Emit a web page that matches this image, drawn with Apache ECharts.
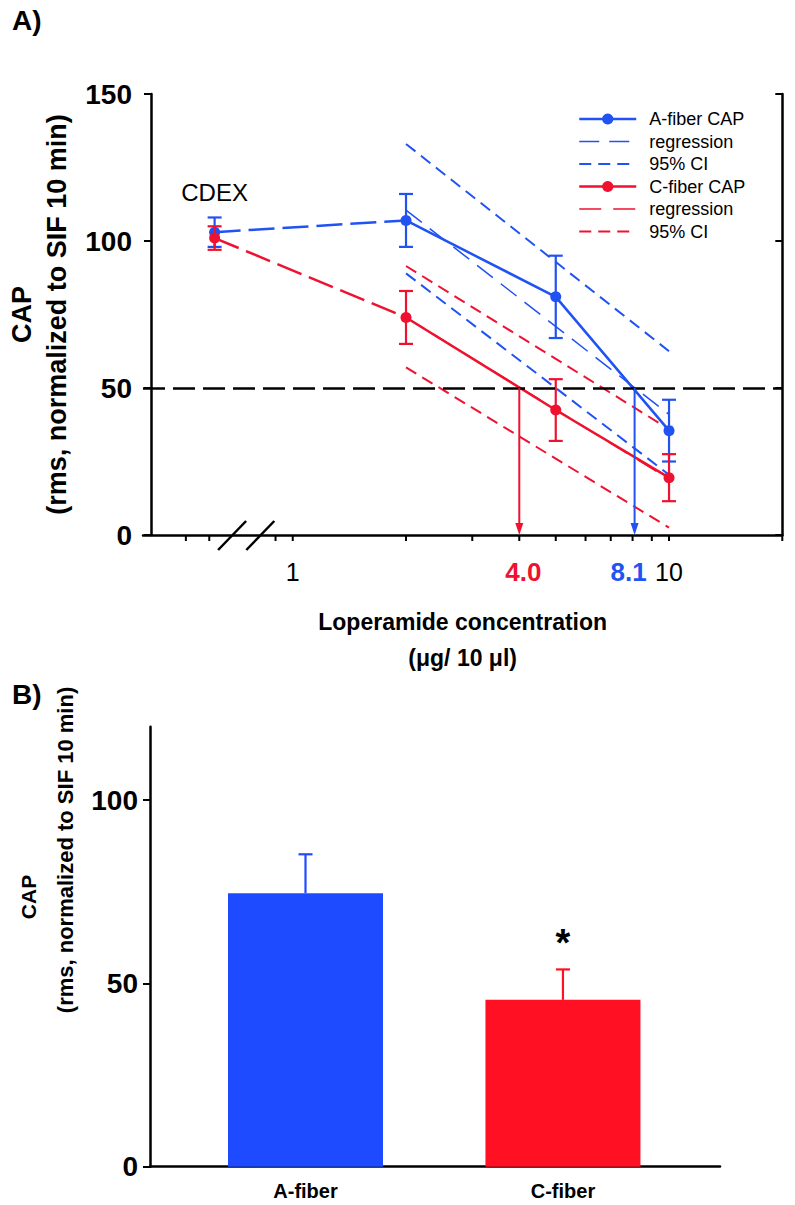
<!DOCTYPE html>
<html>
<head>
<meta charset="utf-8">
<script src="https://cdn.jsdelivr.net/npm/echarts@6.0.0/dist/echarts.min.js"></script>
<style>
html,body{margin:0;padding:0;background:#ffffff;}
#chart{width:795px;height:1205px;}
</style>
</head>
<body>
<div id="chart"></div>
<script>
// ---------- panel A data ----------
const cdexPosition = 0.62;            // x at which the CDEX control sits (left of the axis break)
const concentrations = [2, 5, 10];    // loperamide, µg / 10 µl
const aFiberCdex = [103, 5];          // mean, error
const cFiberCdex = [101, 4];
const aFiberMean = [107, 81, 35.5];
const aFiberErr  = [9, 14, 10.5];
const cFiberMean = [74, 42.5, 19.5];
const cFiberErr  = [9, 10.5, 8];
const regressionX = [2, 10];
const aRegression = [110.5, 41];
const aCiUpper    = [133, 62.5];
const aCiLower    = [89, 20.5];
const cRegression = [74, 19];
const cCiUpper    = [91.5, 36];
const cCiLower    = [57, 2.5];
const halfMaximal = 50;
const ic50Values  = [4.0, 8.1];
const ic50Labels  = ['4.0', '8.1'];
const xTickValues = [0.52, 0.6, 0.9, 1, 2, 3, 4, 5, 6, 7, 8, 9, 10, 20];
const xLabelValues = [1, 10];
const axisBreakAt = [0.69, 0.82];

// ---------- panel B data ----------
const fiberTypes = ['A-fiber', 'C-fiber'];
const capMean = [74.6, 45.5];
const capSem  = [10.6, 8.3];
const significance = ['', '*'];

// ---------- styling ----------
const FONT = '"Liberation Sans", Arial, Helvetica, sans-serif';
const BLUE = '#2152F2';
const RED = '#EE1230';
const BAR_BLUE = '#1E4BFF';
const BAR_RED = '#FF1022';
const SOLID_W = 2.5, CONNECT_DASH = [26, 8];
const REG_A = { width: 1.5, type: [20, 10] };
const REG_C = { width: 1.5, type: [22, 12] };
const CI = { width: 2, type: [12, 7] };

const zip = (xs, ys) => xs.map((x, i) => [x, ys[i]]);

function errorBarRenderer(color, upOnly) {
  return function (params, api) {
    const x = api.value(0), m = api.value(1), e = api.value(2);
    const top = api.coord([x, m + e]);
    const bot = upOnly ? api.coord([x, m]) : api.coord([x, m - e]);
    const hw = 7;
    const st = { stroke: color, lineWidth: 2.2 };
    const children = [
      { type: 'line', shape: { x1: top[0], y1: top[1], x2: bot[0], y2: bot[1] }, style: st },
      { type: 'line', shape: { x1: top[0] - hw, y1: top[1], x2: top[0] + hw, y2: top[1] }, style: st }
    ];
    if (!upOnly) {
      children.push({ type: 'line', shape: { x1: bot[0] - hw, y1: bot[1], x2: bot[0] + hw, y2: bot[1] }, style: st });
    }
    return { type: 'group', children: children };
  };
}

const chart = echarts.init(document.getElementById('chart'), null, { renderer: 'svg', width: 795, height: 1205 });

const legendItem = (name, color, line, hideSymbol) => ({
  name: name,
  itemStyle: hideSymbol ? { color: color, opacity: 0 } : { color: color },
  lineStyle: { color: color, width: line.width, type: line.type, opacity: 1 }
});

const option = {
  animation: false,
  backgroundColor: '#ffffff',
  textStyle: { fontFamily: FONT },
  graphic: [
    { type: 'text', left: 12, top: 6, style: { text: 'A)', font: 'bold 28px ' + FONT, fill: '#000' } },
    { type: 'text', left: 12, top: 680, style: { text: 'B)', font: 'bold 28px ' + FONT, fill: '#000' } },
    { type: 'text', x: 28, y: 897, rotation: Math.PI / 2, style: { text: 'CAP', font: 'bold 21px ' + FONT, fill: '#000', align: 'center', verticalAlign: 'middle' } },
    { type: 'text', x: 65, y: 850, rotation: Math.PI / 2, style: { text: '(rms, normalized to SIF 10 min)', font: 'bold 22px ' + FONT, fill: '#000', align: 'center', verticalAlign: 'middle' } }
  ],
  legend: {
    orient: 'vertical',
    left: 578,
    top: 110,
    padding: 0,
    itemWidth: 57,
    itemHeight: 14,
    itemGap: 4.5,
    selectedMode: false,
    data: [
      legendItem('A-fiber CAP', BLUE, { width: SOLID_W, type: 'solid' }, false),
      legendItem('regression', BLUE, REG_A, true),
      legendItem('95% CI', BLUE, CI, true),
      legendItem('C-fiber CAP', RED, { width: SOLID_W, type: 'solid' }, false),
      legendItem('regression ', RED, REG_C, true),
      legendItem('95% CI ', RED, CI, true)
    ],
    textStyle: { fontSize: 18, lineHeight: 18, color: '#000', fontFamily: FONT, padding: [0, 0, 0, 8] }
  },
  grid: [
    { left: 143, top: 94, width: 639.3, height: 441, outerBoundsMode: 'none', containLabel: false },
    { left: 150, top: 726.7, width: 570, height: 440, outerBoundsMode: 'none', containLabel: false }
  ],
  xAxis: [
    {
      gridIndex: 0, type: 'log', logBase: 10, min: 0.4, max: 20,
      axisLine: { lineStyle: { color: '#000', width: 2.5 } },
      axisTick: { show: false }, axisLabel: { show: false },
      splitLine: { show: false }, minorTick: { show: false },
      name: 'Loperamide concentration\n(μg/ 10 μl)',
      nameLocation: 'middle', nameGap: 69,
      nameTextStyle: { fontSize: 23, fontWeight: 'bold', color: '#000', lineHeight: 36, fontFamily: FONT }
    },
    {
      gridIndex: 1, type: 'value', min: -0.604, max: 1.61,
      axisLine: { onZero: false, lineStyle: { color: '#000', width: 2.5 } },
      axisTick: { show: false },
      splitLine: { show: false },
      axisLabel: {
        customValues: [0, 1],
        formatter: (v) => fiberTypes[Math.round(v)],
        fontSize: 20, fontWeight: 'bold', color: '#000', margin: 14, fontFamily: FONT
      }
    }
  ],
  yAxis: [
    {
      gridIndex: 0, type: 'value', min: 0, max: 150, interval: 50, offset: -8,
      axisLine: { show: true, lineStyle: { color: '#000', width: 2.5 } },
      axisTick: { show: true, length: 7, lineStyle: { width: 2 } },
      axisLabel: { fontSize: 28, fontWeight: 'bold', color: '#000', margin: 19, fontFamily: FONT },
      splitLine: { show: false },
      name: 'CAP\n(rms, normalized to SIF 10 min)',
      nameLocation: 'middle', nameRotate: 90, nameGap: 70,
      nameTextStyle: { fontSize: 27, fontWeight: 'bold', color: '#000', lineHeight: 35, fontFamily: FONT }
    },
    {
      gridIndex: 0, type: 'value', position: 'right', min: 0, max: 150, interval: 50,
      axisLine: { show: true, lineStyle: { color: '#000', width: 2.5 } },
      axisTick: { show: true, inside: true, length: 7, lineStyle: { width: 2 } },
      axisLabel: { show: false }, splitLine: { show: false }
    },
    {
      gridIndex: 1, type: 'value', min: 0, max: 120, interval: 50,
      axisLine: { show: true, onZero: false, lineStyle: { color: '#000', width: 2.5 } },
      axisTick: { show: true, length: 7, lineStyle: { width: 2 }, customValues: [0, 50, 100] },
      axisLabel: { fontSize: 28, fontWeight: 'bold', color: '#000', margin: 12, fontFamily: FONT, customValues: [0, 50, 100] },
      splitLine: { show: false }
    }
  ],
  series: [
    // ---- A-fiber ----
    {
      name: 'A-fiber CAP', type: 'line', xAxisIndex: 0, yAxisIndex: 0, z: 3,
      data: zip(concentrations, aFiberMean),
      symbol: 'circle', symbolSize: 11, showSymbol: true,
      lineStyle: { color: BLUE, width: SOLID_W }, itemStyle: { color: BLUE },
      markLine: {
        silent: true, symbol: 'none', label: { show: false },
        lineStyle: { color: '#000', width: 2.5, type: [22, 8] },
        data: [{ yAxis: halfMaximal }]
      }
    },
    {
      name: 'A-fiber CAP', type: 'line', xAxisIndex: 0, yAxisIndex: 0, z: 3,
      data: [
        { value: [cdexPosition, aFiberCdex[0]], label: { show: true, formatter: 'CDEX', position: 'top', distance: 22, fontSize: 24, color: '#000', fontFamily: FONT } },
        { value: [concentrations[0], aFiberMean[0]], symbol: 'none' }
      ],
      symbol: 'circle', symbolSize: 11,
      lineStyle: { color: BLUE, width: SOLID_W, type: CONNECT_DASH }, itemStyle: { color: BLUE }
    },
    {
      name: 'regression', type: 'line', xAxisIndex: 0, yAxisIndex: 0, z: 2,
      data: zip(regressionX, aRegression), symbol: 'none',
      lineStyle: { color: BLUE, width: REG_A.width, type: REG_A.type }, itemStyle: { color: BLUE }
    },
    {
      name: '95% CI', type: 'line', xAxisIndex: 0, yAxisIndex: 0, z: 2,
      data: zip(regressionX, aCiUpper), symbol: 'none',
      lineStyle: { color: BLUE, width: CI.width, type: CI.type }, itemStyle: { color: BLUE }
    },
    {
      name: '95% CI', type: 'line', xAxisIndex: 0, yAxisIndex: 0, z: 2,
      data: zip(regressionX, aCiLower), symbol: 'none',
      lineStyle: { color: BLUE, width: CI.width, type: CI.type }, itemStyle: { color: BLUE }
    },
    {
      name: 'aErr', type: 'custom', xAxisIndex: 0, yAxisIndex: 0, z: 3,
      renderItem: errorBarRenderer(BLUE, false),
      data: [[cdexPosition, aFiberCdex[0], aFiberCdex[1]]].concat(concentrations.map((c, i) => [c, aFiberMean[i], aFiberErr[i]]))
    },
    // ---- C-fiber ----
    {
      name: 'C-fiber CAP', type: 'line', xAxisIndex: 0, yAxisIndex: 0, z: 4,
      data: zip(concentrations, cFiberMean),
      symbol: 'circle', symbolSize: 11,
      lineStyle: { color: RED, width: SOLID_W }, itemStyle: { color: RED }
    },
    {
      name: 'C-fiber CAP', type: 'line', xAxisIndex: 0, yAxisIndex: 0, z: 4,
      data: [
        { value: [cdexPosition, cFiberCdex[0]] },
        { value: [concentrations[0], cFiberMean[0]], symbol: 'none' }
      ],
      symbol: 'circle', symbolSize: 11,
      lineStyle: { color: RED, width: SOLID_W, type: CONNECT_DASH }, itemStyle: { color: RED }
    },
    {
      name: 'regression ', type: 'line', xAxisIndex: 0, yAxisIndex: 0, z: 2,
      data: zip(regressionX, cRegression), symbol: 'none',
      lineStyle: { color: RED, width: REG_C.width, type: REG_C.type }, itemStyle: { color: RED }
    },
    {
      name: '95% CI ', type: 'line', xAxisIndex: 0, yAxisIndex: 0, z: 2,
      data: zip(regressionX, cCiUpper), symbol: 'none',
      lineStyle: { color: RED, width: CI.width, type: CI.type }, itemStyle: { color: RED }
    },
    {
      name: '95% CI ', type: 'line', xAxisIndex: 0, yAxisIndex: 0, z: 2,
      data: zip(regressionX, cCiLower), symbol: 'none',
      lineStyle: { color: RED, width: CI.width, type: CI.type }, itemStyle: { color: RED }
    },
    {
      name: 'cErr', type: 'custom', xAxisIndex: 0, yAxisIndex: 0, z: 4,
      renderItem: errorBarRenderer(RED, false),
      data: [[cdexPosition, cFiberCdex[0], cFiberCdex[1]]].concat(concentrations.map((c, i) => [c, cFiberMean[i], cFiberErr[i]]))
    },
    // ---- IC50 arrows ----
    {
      name: 'ic50', type: 'custom', xAxisIndex: 0, yAxisIndex: 0, z: 5,
      data: ic50Values.map((v, i) => [v, halfMaximal, i]),
      renderItem: function (params, api) {
        const v = api.value(0);
        const color = api.value(2) === 0 ? RED : BLUE;
        const p0 = api.coord([v, api.value(1)]);
        const p1 = api.coord([v, 0]);
        return {
          type: 'group', children: [
            { type: 'line', shape: { x1: p0[0], y1: p0[1], x2: p1[0], y2: p1[1] - 10 }, style: { stroke: color, lineWidth: 2 } },
            { type: 'polygon', shape: { points: [[p1[0] - 4, p1[1] - 12], [p1[0] + 4, p1[1] - 12], [p1[0], p1[1]]] }, style: { fill: color } }
          ]
        };
      }
    },
    // ---- x ticks, labels, break ----
    {
      name: 'xticks', type: 'custom', xAxisIndex: 0, yAxisIndex: 0, z: 6, silent: true,
      data: xTickValues.map(v => [v, 0]),
      renderItem: function (params, api) {
        const p = api.coord([api.value(0), 0]);
        return { type: 'line', shape: { x1: p[0], y1: p[1], x2: p[0], y2: p[1] + 6 }, style: { stroke: '#000', lineWidth: 2 } };
      }
    },
    {
      name: 'xlabels', type: 'custom', xAxisIndex: 0, yAxisIndex: 0, z: 6, silent: true,
      data: xLabelValues.map(v => [v, 0, -1]).concat(ic50Values.map((v, i) => [v, 0, i])),
      renderItem: function (params, api) {
        const k = api.value(2);
        const v = api.value(0);
        const p = api.coord([v, 0]);
        let text, fill, font, dx = 0;
        if (k < 0) { text = String(v); fill = '#000'; font = '25px ' + FONT; }
        else { text = ic50Labels[k]; fill = k === 0 ? RED : BLUE; font = 'bold 26px ' + FONT; dx = k === 0 ? 4 : -6; }
        return { type: 'text', x: p[0] + dx, y: p[1] + 37, style: { text: text, fill: fill, font: font, align: 'center', verticalAlign: 'middle' } };
      }
    },
    {
      name: 'axisBreak', type: 'custom', xAxisIndex: 0, yAxisIndex: 0, z: 7, silent: true,
      data: axisBreakAt.map(v => [v, 0]),
      renderItem: function (params, api) {
        const p = api.coord([api.value(0), 0]);
        return { type: 'line', shape: { x1: p[0] - 14, y1: p[1] + 15, x2: p[0] + 14, y2: p[1] - 14 }, style: { stroke: '#000', lineWidth: 2.5 } };
      }
    },
    // ---- panel B ----
    {
      name: 'CAP bars', type: 'bar', xAxisIndex: 1, yAxisIndex: 2,
      barWidth: 155,
      data: capMean.map((v, i) => ({ value: [i, v], itemStyle: { color: i === 0 ? BAR_BLUE : BAR_RED } })),
      label: {
        show: true, position: 'top', distance: 38,
        formatter: (p) => significance[p.dataIndex],
        fontSize: 38, fontWeight: 'bold', color: '#000', fontFamily: FONT
      }
    },
    {
      name: 'barErr', type: 'custom', xAxisIndex: 1, yAxisIndex: 2, z: 3,
      data: capMean.map((v, i) => [i, v, capSem[i], i]),
      renderItem: function (params, api) {
        const color = api.value(3) === 0 ? BAR_BLUE : BAR_RED;
        return errorBarRenderer(color, true)(params, api);
      }
    }
  ]
};

chart.setOption(option);
</script>
</body>
</html>
